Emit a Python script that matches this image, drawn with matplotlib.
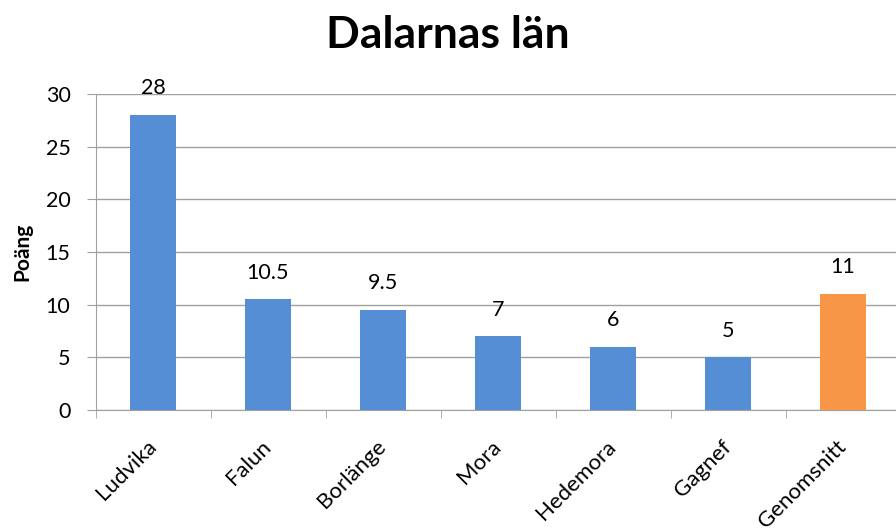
import matplotlib
matplotlib.use("Agg")
import matplotlib.pyplot as plt
import numpy as np

plt.rcParams['font.family'] = ['Lato', 'DejaVu Sans']

# data
kommuner = ['Ludvika', 'Falun', 'Borlänge', 'Mora', 'Hedemora', 'Gagnef', 'Genomsnitt']
poang = [28, 10.5, 9.5, 7, 6, 5, 11]
etiketter = ['28', '10.5', '9.5', '7', '6', '5', '11']
farger = ['#558ED5'] * 6 + ['#F79646']

fig = plt.figure(figsize=(8.96, 5.32), dpi=100)
ax = fig.add_axes([95.5/896, 1 - 410/532, 805/896, (410 - 94)/532])

x = np.arange(len(kommuner))
bars = ax.bar(x, poang, width=0.4, color=farger, zorder=3)

for b, txt in zip(bars, etiketter):
    ax.annotate(txt, (b.get_x() + b.get_width()/2, b.get_height()),
                xytext=(0, 12), textcoords='offset points',
                ha='center', va='bottom', fontsize=15.5)

ax.set_xlim(-0.5, len(kommuner) - 0.5)
ax.set_ylim(0, 30)
ax.set_yticks([0, 5, 10, 15, 20, 25, 30])
ax.tick_params(axis='y', labelsize=15.5, length=6.5, color='#A0A0A0', pad=11.5)
ax.yaxis.grid(True, color='#A0A0A0', lw=1, zorder=0)

# category labels at centres, tick marks at the boundaries
ax.set_xticks(x)
ax.set_xticklabels(kommuner, rotation=45, ha='right', va='center',
                   rotation_mode='anchor', fontsize=16)
ax.tick_params(axis='x', length=0, pad=24)
ax.set_xticks(np.arange(-0.5, len(kommuner)), minor=True)
ax.tick_params(axis='x', which='minor', length=6, color='#A0A0A0')

for s in ['top', 'right']:
    ax.spines[s].set_visible(False)
for s in ['left', 'bottom']:
    ax.spines[s].set_color('#A0A0A0')

ax.set_ylabel('Poäng', fontsize=15, fontweight='bold')
ax.yaxis.set_label_coords(-(95.5 - 32)/805, 0.5)
fig.text(0.5, 1 - 35/532, 'Dalarnas län', ha='center', va='center',
         fontsize=32, fontweight='bold')

fig.savefig('out.png', dpi=100)
